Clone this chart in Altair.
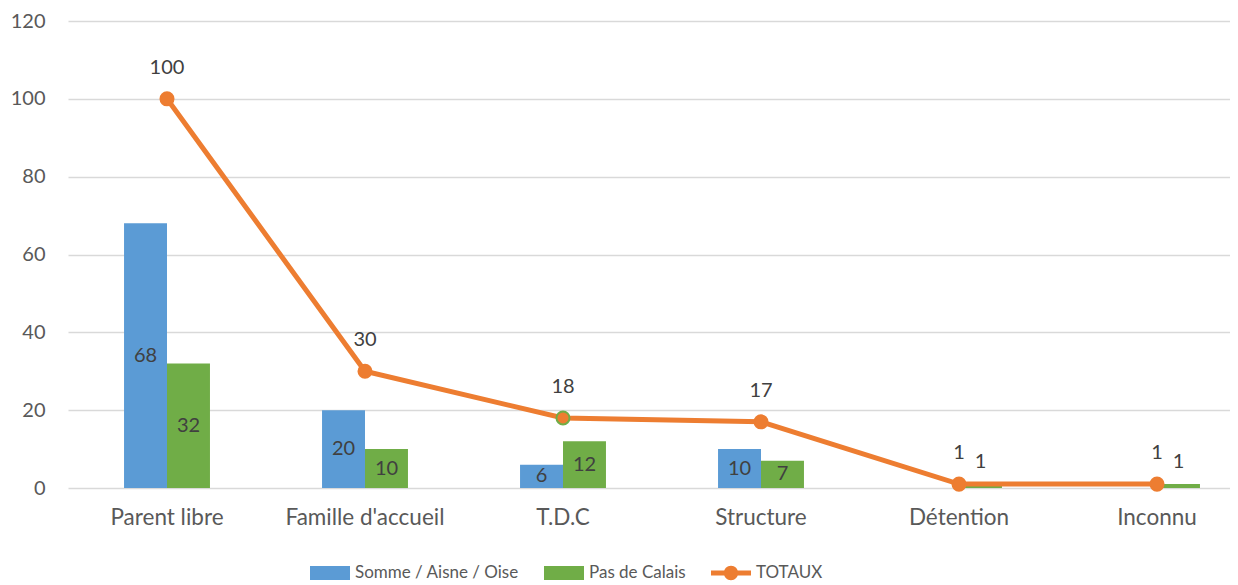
import altair as alt
import pandas as pd

categories = ["Parent libre", "Famille d'accueil", "T.D.C", "Structure", "Détention", "Inconnu"]
series_names = ["Somme / Aisne / Oise", "Pas de Calais", "TOTAUX"]
somme = [68, 20, 6, 10, 0, 0]
pas_de_calais = [32, 10, 12, 7, 1, 1]
totaux = [100, 30, 18, 17, 1, 1]
colors = ["#5B9BD5", "#70AD47", "#ED7D31"]

FONT = "Lato"

rows = []
for c, a, b in zip(categories, somme, pas_de_calais):
    rows.append({"cat": c, "series": series_names[0], "value": a})
    rows.append({"cat": c, "series": series_names[1], "value": b})
bars_df = pd.DataFrame(rows)
tot_df = pd.DataFrame({"cat": categories, "total": totaux, "series": series_names[2]})

x_scale = alt.Scale(range=[0, 1188], paddingInner=0.566, paddingOuter=0.283)
y_scale = alt.Scale(domain=[0, 120], nice=False)
color_scale = alt.Scale(domain=series_names, range=colors)

rect_path = "M-1,-0.35H1V0.35H-1Z"
line_path = ("M-1,-0.13H1V0.13H-1Z"
             "M0.36,0A0.36,0.36 0 1,1 -0.36,0A0.36,0.36 0 1,1 0.36,0Z")

legend = alt.Legend(
    orient="none", legendX=242, legendY=532, direction="horizontal", title=None,
    labelFontSize=17, labelFont=FONT, labelColor="#595959", labelLimit=400,
    symbolSize=1600, columnPadding=25, labelOffset=5, symbolStrokeWidth=0,
    padding=0, symbolOpacity=1,
    symbolType=alt.ExprRef(expr=f"datum.value === 'TOTAUX' ? '{line_path}' : '{rect_path}'"),
)

x_axis = alt.Axis(labelAngle=0, labelFontSize=22.5, labelFont=FONT,
                  labelColor="#595959", labelPadding=18, ticks=False,
                  domain=False, grid=False)
y_axis = alt.Axis(values=[0, 20, 40, 60, 80, 100, 120], labelFontSize=20,
                  labelFont=FONT, labelColor="#595959", labelPadding=23,
                  ticks=False, domain=False, grid=True, gridColor="#D9D9D9",
                  gridWidth=1.3)

x_enc = alt.X("cat:N", sort=categories, scale=x_scale, title=None, axis=x_axis)
x_off = alt.XOffset("series:N", sort=series_names[:2],
                    scale=alt.Scale(paddingInner=0, paddingOuter=0))


def y_enc(field):
    return alt.Y(field, scale=y_scale, title=None, axis=y_axis)


bars = alt.Chart(bars_df).mark_bar().encode(
    x=x_enc,
    xOffset=x_off,
    y=y_enc("value:Q"),
    color=alt.Color("series:N", scale=color_scale, legend=legend),
)

bar_labels = alt.Chart(bars_df).transform_filter(
    "datum.value >= 3"
).transform_calculate(mid="datum.value / 2").mark_text(
    font=FONT, fontSize=20, color="#404040", baseline="middle"
).encode(
    x=x_enc, xOffset=x_off,
    y=y_enc("mid:Q"),
    text="value:Q",
)

small_labels = alt.Chart(bars_df).transform_filter(
    "datum.value > 0 && datum.value < 3"
).mark_text(
    font=FONT, fontSize=20, color="#404040", baseline="middle", dy=-22
).encode(
    x=x_enc, xOffset=x_off,
    y=y_enc("value:Q"),
    text="value:Q",
)

line = alt.Chart(tot_df).mark_line(strokeWidth=5).encode(
    x=x_enc,
    y=y_enc("total:Q"),
    color=alt.Color("series:N", scale=color_scale, legend=legend),
)

points = alt.Chart(tot_df).mark_circle(size=170, opacity=1, color="#ED7D31").encode(
    x=x_enc,
    y=y_enc("total:Q"),
    stroke=alt.condition("datum.cat === 'T.D.C'", alt.value("#70AD47"), alt.value("#ED7D31")),
    strokeWidth=alt.value(2),
)

tot_labels = alt.Chart(tot_df).mark_text(
    font=FONT, fontSize=20, color="#404040", baseline="middle", dy=-31
).encode(
    x=x_enc,
    y=y_enc("total:Q"),
    text="total:Q",
)

chart = alt.layer(bars, bar_labels, small_labels, line, points, tot_labels).properties(
    width=1162, height=467,
    padding={"left": 60, "top": 13, "right": 0, "bottom": 97},
    autosize=alt.AutoSizeParams(type="none"),
).configure_view(stroke=None)

chart.save("out.html", embed_options={"renderer": "svg", "actions": False})
